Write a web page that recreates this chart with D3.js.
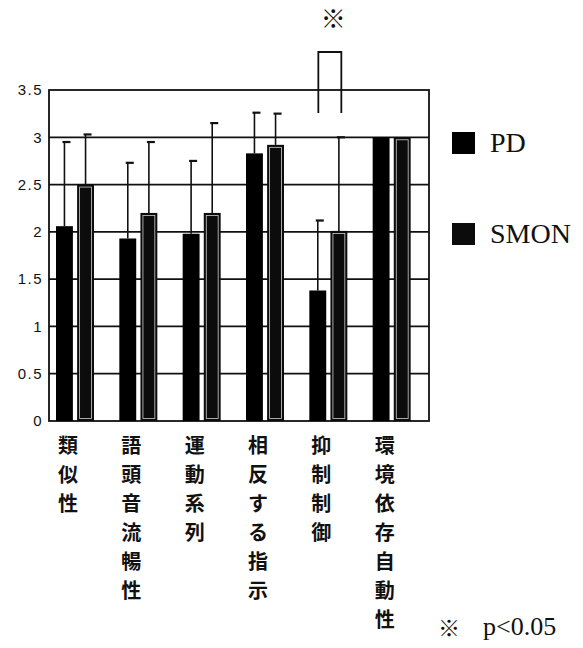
<!DOCTYPE html>
<html lang="ja">
<head>
    <meta charset="UTF-8">
    <title>PD vs SMON</title>
    <script src="https://d3js.org/d3.v7.min.js"></script>
    <style>
        body { margin: 0; background: #fff; }
        svg { display: block; }
        .tick text { font-family: "Liberation Sans", Arial, sans-serif; font-size: 15px; letter-spacing: 1.5px; fill: #111; }
        .cat { font-family: "Noto Sans CJK JP", sans-serif; font-size: 20px; font-weight: 700; fill: #111; }
        .serif { font-family: "Liberation Serif", "Times New Roman", serif; fill: #111; }
        .kome { font-family: "Noto Sans CJK JP", sans-serif; fill: #111; }
    </style>
</head>
<body>
<svg id="chart"></svg>
<script>
    // data
    const categories = ['類似性', '語頭音流暢性', '運動系列', '相反する指示', '抑制制御', '環境依存自動性'];
    const groups = ['PD', 'SMON'];
    const pdMeans = [2.06, 1.93, 1.98, 2.83, 1.38, 3.0];
    const smonMeans = [2.5, 2.2, 2.2, 2.92, 2.01, 3.0];
    const pdSd = [0.89, 0.80, 0.77, 0.43, 0.74, 0];
    const smonSd = [0.53, 0.75, 0.95, 0.33, 0.99, 0];
    const yTicks = [0, 0.5, 1, 1.5, 2, 2.5, 3, 3.5];

    const W = 583, H = 648;
    const svg = d3.select('#chart').attr('width', W).attr('height', H);

    const x = d3.scaleBand().domain(categories).range([49, 429]);
    const xSub = d3.scaleBand().domain(groups).range([7, 45]).paddingInner(0.2);
    const y = d3.scaleLinear().domain([0, 3.5]).range([421, 90]);

    // gridlines
    svg.append('g')
        .selectAll('line')
        .data(yTicks.filter(t => t > 0 && t < 3.5))
        .join('line')
        .attr('x1', 49).attr('x2', 429)
        .attr('y1', d => y(d)).attr('y2', d => y(d))
        .attr('stroke', '#111').attr('stroke-width', 1.8);

    // frame
    svg.append('rect')
        .attr('x', 49).attr('y', y(3.5))
        .attr('width', 380).attr('height', y(0) - y(3.5))
        .attr('fill', 'none').attr('stroke', '#111').attr('stroke-width', 1.8);

    // y axis labels
    svg.append('g')
        .attr('transform', 'translate(49,0)')
        .call(d3.axisLeft(y).tickValues(yTicks).tickSize(0).tickPadding(6).tickFormat(d => String(d)))
        .call(g => g.select('.domain').remove());

    const rows = categories.map((c, i) => ({
        cat: c,
        vals: [
            { key: 'PD', mean: pdMeans[i], sd: pdSd[i] },
            { key: 'SMON', mean: smonMeans[i], sd: smonSd[i] }
        ]
    }));

    const grp = svg.append('g').selectAll('g')
        .data(rows)
        .join('g')
        .attr('transform', d => `translate(${x(d.cat)},0)`);

    // error bars (drawn first so bar sits on top)
    grp.selectAll('g.err')
        .data(d => d.vals.filter(v => v.sd > 0))
        .join('g')
        .attr('class', 'err')
        .each(function(d) {
            const cx = xSub(d.key) + xSub.bandwidth() / 2;
            const g = d3.select(this);
            g.append('line')
                .attr('x1', cx).attr('x2', cx)
                .attr('y1', y(d.mean)).attr('y2', y(d.mean + d.sd))
                .attr('stroke', '#111').attr('stroke-width', 1.6);
            g.append('line')
                .attr('x1', cx - 2).attr('x2', cx + 6)
                .attr('y1', y(d.mean + d.sd)).attr('y2', y(d.mean + d.sd))
                .attr('stroke', '#111').attr('stroke-width', 2.2);
        });

    grp.selectAll('rect.bar')
        .data(d => d.vals)
        .join('rect')
        .attr('class', 'bar')
        .attr('x', d => xSub(d.key))
        .attr('width', xSub.bandwidth())
        .attr('y', d => y(d.mean))
        .attr('height', d => y(0) - y(d.mean))
        .attr('fill', d => d.key === 'PD' ? '#000' : '#0c0c0c');

    // thin white inner outline on SMON bars
    grp.selectAll('rect.inner')
        .data(d => d.vals.filter(v => v.key === 'SMON'))
        .join('rect')
        .attr('class', 'inner')
        .attr('x', d => xSub(d.key) + 2.5)
        .attr('width', xSub.bandwidth() - 5)
        .attr('y', d => y(d.mean) + 2.5)
        .attr('height', d => y(0) - y(d.mean) - 5)
        .attr('fill', 'none')
        .attr('stroke', '#fff').attr('stroke-width', 0.8).attr('stroke-opacity', 0.8);

    // vertical category labels, one character per line
    grp.append('text')
        .attr('class', 'cat')
        .attr('text-anchor', 'middle')
        .selectAll('tspan')
        .data(d => Array.from(d.cat))
        .join('tspan')
        .attr('x', 19)
        .attr('y', (d, i) => 453 + i * 29)
        .text(d => d);

    // significance bracket over 抑制制御
    const sigX = x(categories[4]);
    svg.append('path')
        .attr('d', `M${sigX + 16},113 V52 H${sigX + 39} V113`)
        .attr('fill', 'none').attr('stroke', '#111').attr('stroke-width', 1.8);
    svg.append('text')
        .attr('class', 'kome')
        .attr('x', sigX + 31).attr('y', 28)
        .attr('text-anchor', 'middle')
        .style('font-size', '25px')
        .text('※');

    // legend
    const legend = svg.append('g').selectAll('g')
        .data(groups)
        .join('g')
        .attr('transform', (d, i) => `translate(452,${132 + i * 91})`);
    legend.append('rect')
        .attr('width', 23).attr('height', 22)
        .attr('fill', d => d === 'PD' ? '#000' : '#0c0c0c');
    legend.append('text')
        .attr('class', 'serif')
        .attr('x', 38).attr('y', 20)
        .style('font-size', '28px')
        .text(d => d);

    // footnote
    svg.append('text')
        .attr('class', 'kome')
        .attr('x', 449).attr('y', 636)
        .attr('text-anchor', 'middle')
        .style('font-size', '22px')
        .text('※');
    svg.append('text')
        .attr('class', 'serif')
        .attr('x', 483).attr('y', 635)
        .style('font-size', '26px')
        .text('p<0.05');
</script>
</body>
</html>
